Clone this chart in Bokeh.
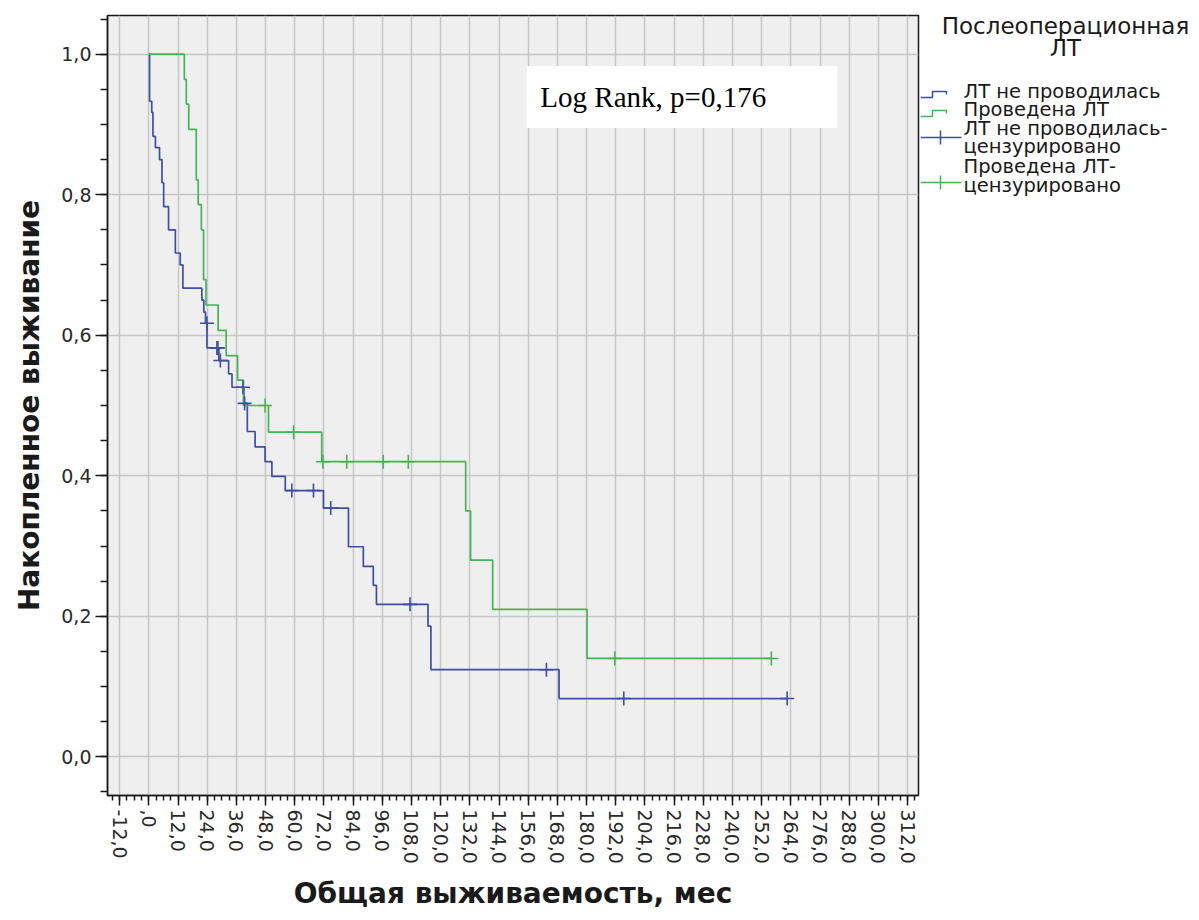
import numpy as np
from bokeh.plotting import figure
from bokeh.models import Range1d, FixedTicker, BoxAnnotation, Label, ColumnDataSource
from bokeh.layouts import row
from bokeh.embed import file_html
from bokeh.resources import INLINE
from bokeh.core.properties import value

# Kaplan-Meier curves: time (months) of each drop and the survival level after it.
# The last entry of each series is the end of follow-up (no drop).
no_rt_times = [0.0, 0.3, 1.2, 1.7, 2.7, 4.4, 5.4, 6.1, 8.1, 10.9, 12.9, 14.0,
               21.8, 22.6, 23.3, 23.9, 28.8, 32.8, 34.2, 39.1, 40.5, 43.7,
               47.8, 50.6, 56.1, 71.8, 82.1, 88.2, 92.3, 93.6, 114.8, 116.0,
               168.7, 262.5]
no_rt_surv = [1.000, 0.933, 0.917, 0.883, 0.867, 0.850, 0.817, 0.783, 0.750,
              0.717, 0.700, 0.667, 0.650, 0.633, 0.617, 0.582, 0.564, 0.545,
              0.526, 0.503, 0.463, 0.441, 0.420, 0.399, 0.379, 0.354, 0.299,
              0.271, 0.244, 0.217, 0.186, 0.124, 0.083, 0.083]

rt_times = [0.0, 14.6, 15.4, 16.4, 19.5, 20.3, 21.6, 22.5, 23.5, 28.5, 31.8,
            36.5, 38.9, 49.2, 71.1, 130.3, 132.3, 141.4, 180.2, 256.0]
rt_surv = [1.000, 0.964, 0.929, 0.893, 0.821, 0.786, 0.750, 0.679, 0.643,
           0.607, 0.571, 0.536, 0.500, 0.462, 0.420, 0.350, 0.280, 0.210,
           0.140, 0.140]

# Censored observations
no_rt_cens_times = [23.9, 28.0, 28.4, 29.4, 38.7, 39.4, 58.8, 67.7, 74.8,
                    107.4, 163.5, 195.3, 262.5]
no_rt_cens_surv = [0.617, 0.582, 0.582, 0.564, 0.526, 0.503, 0.379, 0.379,
                   0.354, 0.217, 0.124, 0.083, 0.083]
rt_cens_times = [47.8, 59.5, 71.6, 81.4, 96.4, 106.7, 191.6, 256.0]
rt_cens_surv = [0.500, 0.462, 0.420, 0.420, 0.420, 0.420, 0.140, 0.140]

# Axes
x_ticks = [-12, 0, 12, 24, 36, 48, 60, 72, 84, 96, 108, 120, 132, 144, 156,
           168, 180, 192, 204, 216, 228, 240, 252, 264, 276, 288, 300, 312]
x_tick_labels = ["-12,0", ",0", "12,0", "24,0", "36,0", "48,0", "60,0", "72,0",
                 "84,0", "96,0", "108,0", "120,0", "132,0", "144,0", "156,0",
                 "168,0", "180,0", "192,0", "204,0", "216,0", "228,0", "240,0",
                 "252,0", "264,0", "276,0", "288,0", "300,0", "312,0"]
y_ticks = [0.0, 0.2, 0.4, 0.6, 0.8, 1.0]
y_tick_labels = ["0,0", "0,2", "0,4", "0,6", "0,8", "1,0"]

x_title = "Общая выживаемость, мес"
y_title = "Накопленное выживание"
test_text = "Log Rank, p=0,176"

legend_title = ["Послеоперационная", "ЛТ"]
legend_lines = ["ЛТ не проводилась", "Проведена ЛТ",
                "ЛТ не проводилась-", "цензурировано",
                "Проведена ЛТ-", "цензурировано"]

BLUE = "#3E4EA6"
GREEN = "#44B553"
TEXT = "#1A1A1A"
FONT = "DejaVu Sans"

FRAME_TOP, FRAME_BOTTOM = 15, 795

p = figure(width=920, height=920,
           x_range=Range1d(-17.0, 316.5), y_range=Range1d(-0.055, 1.055),
           output_backend="svg", toolbar_location=None,
           min_border_left=107, min_border_right=2,
           min_border_top=FRAME_TOP, min_border_bottom=920 - FRAME_BOTTOM)
p.background_fill_color = "#EFEFEF"
p.border_fill_color = "white"
p.outline_line_color = "#1A1A1A"
p.outline_line_width = 1.5

# tick setup
p.xaxis.ticker = FixedTicker(ticks=x_ticks,
                             minor_ticks=list(np.arange(-15, 316, 3)))
p.yaxis.ticker = FixedTicker(ticks=y_ticks,
                             minor_ticks=[round(v, 2) for v in np.arange(-0.05, 1.06, 0.05)])
p.xaxis.major_label_overrides = dict(zip(x_ticks, x_tick_labels))
p.yaxis.major_label_overrides = dict(zip(y_ticks, y_tick_labels))
p.xaxis.major_label_orientation = -np.pi / 2

for ax in (p.xaxis, p.yaxis):
    ax.axis_line_color = "#1A1A1A"
    ax.axis_line_width = 1.5
    ax.major_tick_line_color = "#1A1A1A"
    ax.minor_tick_line_color = "#1A1A1A"
    ax.major_tick_line_width = 1.5
    ax.minor_tick_line_width = 1.5
    ax.major_tick_in = 0
    ax.minor_tick_in = 0
    ax.major_label_text_font = FONT
    ax.major_label_text_font_size = "19px"
    ax.major_label_text_color = "#2A2A2A"
    ax.major_label_standoff = 4
    ax.axis_label_text_font = FONT
    ax.axis_label_text_font_style = "bold"
    ax.axis_label_text_font_size = "28px"
    ax.axis_label_text_color = TEXT

p.yaxis.major_tick_out = 12
p.yaxis.minor_tick_out = 7
p.xaxis.major_tick_out = 10
p.xaxis.minor_tick_out = 5
p.yaxis.axis_label = y_title
p.xaxis.axis_label = x_title
p.yaxis.axis_label_standoff = 12
p.xaxis.axis_label_standoff = 10

p.grid.grid_line_color = "#C6C6C6"
p.grid.grid_line_width = 1.5

# survival curves
src_no = ColumnDataSource(dict(t=no_rt_times, s=no_rt_surv))
src_rt = ColumnDataSource(dict(t=rt_times, s=rt_surv))
p.step("t", "s", source=src_no, mode="after", line_color=BLUE, line_width=1.7)
p.step("t", "s", source=src_rt, mode="after", line_color=GREEN, line_width=1.7)

# censor marks
p.scatter(no_rt_cens_times, no_rt_cens_surv, marker="cross", size=14,
          line_color=BLUE, line_width=1.6)
p.scatter(rt_cens_times, rt_cens_surv, marker="cross", size=14,
          line_color=GREEN, line_width=1.6)

# log-rank test box
p.add_layout(BoxAnnotation(left=155.4, right=283.2, bottom=0.895, top=0.983,
                           fill_color="white", fill_alpha=1.0, line_color=None))
p.add_layout(Label(x=161.0, y=0.939, text=test_text,
                   text_font="Liberation Serif", text_font_size="29px",
                   text_baseline="middle", text_color="black"))

# legend panel; its frame lines up with the chart frame, so the y range
# is set to make data units equal page pixels (y downwards)
leg = figure(width=279, height=920, x_range=Range1d(920, 1199),
             y_range=Range1d(FRAME_BOTTOM, FRAME_TOP), output_backend="svg",
             toolbar_location=None, min_border_left=0, min_border_right=0,
             min_border_top=FRAME_TOP, min_border_bottom=920 - FRAME_BOTTOM,
             x_axis_location=None, y_axis_location=None)
leg.outline_line_color = None
leg.grid.visible = False
leg.background_fill_color = "white"
leg.border_fill_color = "white"

for line_text, ty in zip(legend_title, [25, 47]):
    leg.add_layout(Label(x=1065, y=ty, text=line_text, text_align="center",
                         text_baseline="middle", text_font=FONT,
                         text_font_size="23px", text_color=TEXT))
leg.text(x=[963] * 6, y=[91, 109, 128, 146, 166, 185], text=legend_lines,
         text_align="left", text_baseline="middle",
         text_font=value(FONT), text_font_size="19.5px", text_color=TEXT)

# step symbols
leg.line([920, 932, 932, 946, 946], [97, 97, 91, 91, 94], line_color=BLUE, line_width=1.5)
leg.line([920, 932, 932, 946, 946], [116, 116, 110, 110, 113], line_color=GREEN, line_width=1.5)
# censor symbols
leg.segment(x0=[920, 940], y0=[137, 130], x1=[961, 940], y1=[137, 144],
            line_color=BLUE, line_width=1.5)
leg.segment(x0=[920, 940], y0=[182, 175], x1=[961, 940], y1=[182, 189],
            line_color=GREEN, line_width=1.5)

layout = row(p, leg)
open("out.html", "w").write(file_html(layout, INLINE))
